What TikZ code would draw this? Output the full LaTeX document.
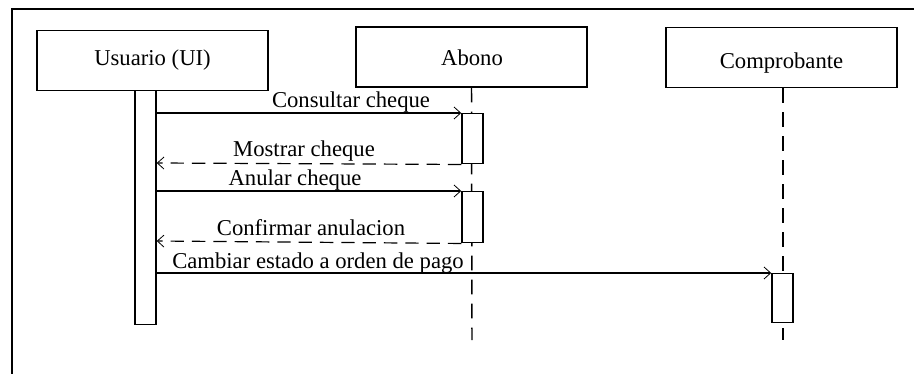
\documentclass[tikz,border=0pt]{standalone}
\usepackage{fontspec}
\setmainfont{Liberation Serif}
\usetikzlibrary{arrows.meta}
\begin{document}
\begin{tikzpicture}[x=0.75pt,y=-0.75pt,
  every node/.style={font=\fontsize{17}{20}\selectfont, inner sep=0pt},
  obj/.style={draw, line width=1.1pt, minimum width=231*0.75pt, minimum height=60*0.75pt},
  act/.style={draw, line width=1.1pt, fill=white},
  life/.style={line width=1.1pt, dash pattern=on 11pt off 7pt},
  msg/.style={line width=0.9pt, -{Straight Barb[length=5pt,width=9pt,line width=0.6pt]}},
  reply/.style={msg, dash pattern=on 10pt off 6pt},
  lbl/.style={anchor=base}]
  \useasboundingbox (0,0) rectangle (914,374);
  % outer frame
  \draw[line width=1.6pt] (12,380) -- (12,9) -- (920,9);

  % objects
  \node[obj] (usr)  at (152.5,60.5) {Usuario (UI)};
  \node[obj] (abo)  at (471.5,57)   {};
  \node[obj] (comp) at (781.5,57.5) {};
  \node at (472,58) {Abono};
  \node at (781.5,63) {Comprobante};

  % lifelines
  \coordinate (aboEnd) at (472,340);
  \coordinate (compEnd) at (783,340);
  \draw[life] (abo.south) -- (aboEnd);
  \draw[life] (comp.south -| compEnd) -- (compEnd);

  % activation bars
  \node[act, minimum width=21*0.75pt, minimum height=234*0.75pt, anchor=north] (usrAct) at (145.5,90) {};
  \node[act, minimum width=21*0.75pt, minimum height=50*0.75pt, anchor=north] (aboAct1) at (472.5,113) {};
  \node[act, minimum width=21*0.75pt, minimum height=51*0.75pt, anchor=north] (aboAct2) at (472.5,191) {};
  \node[act, minimum width=21*0.75pt, minimum height=49*0.75pt, anchor=north] (compAct) at (782.5,273) {};

  % messages
  \draw[msg] (usrAct.east |- 0,113) -- (aboAct1.north west);
  \node[lbl] at (351,108) {Consultar cheque};
  \draw[reply] (aboAct1.south west) -- (usrAct.east |- 0,163);
  \node[lbl] at (304,157) {Mostrar cheque};
  \draw[msg] (usrAct.east |- 0,191) -- (aboAct2.north west);
  \node[lbl] at (295,186) {Anular cheque};
  \draw[reply] (aboAct2.south west) -- (usrAct.east |- 0,241);
  \node[lbl] at (311,235) {Confirmar anulacion};
  \draw[msg] (usrAct.east |- 0,273) -- (compAct.north west);
  \node[lbl] at (318,268) {Cambiar estado a orden de pago};
\end{tikzpicture}
\end{document}
